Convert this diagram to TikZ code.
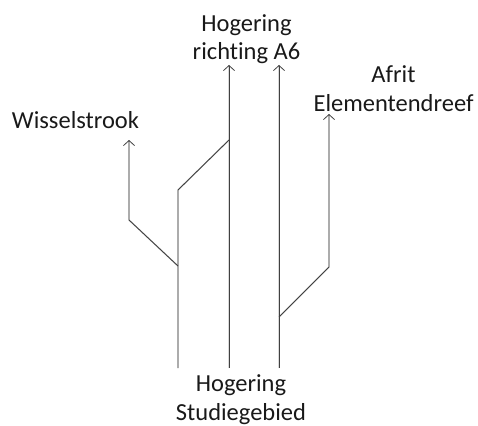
\documentclass[tikz,border=0pt]{standalone}
\usepackage{fontspec}
\setmainfont{Carlito}[Ligatures=NoCommon]
\usetikzlibrary{arrows.meta}
\begin{document}
\begin{tikzpicture}[x=1pt,y=-1pt,
  road/.style={draw=black!75,line width=0.9pt},
  shadow/.style={draw=black!15,line width=1.4pt},
  tip/.style={-{Straight Barb[length=5pt,width=11pt,line width=0.8pt]}},
  lbl/.style={font=\fontsize{24.5}{28.5}\selectfont,align=center,inner sep=0pt,anchor=base,text=black!90}]
\useasboundingbox (0,0) rectangle (478,425);
% coordinates
\coordinate (b1) at (178,368); \coordinate (j1) at (178,266);
\coordinate (w1) at (129,220); \coordinate (wt) at (129,140);
\coordinate (j2) at (178,190); \coordinate (m1) at (229,140);
\coordinate (b2) at (229,368); \coordinate (t2) at (229,65);
\coordinate (b3) at (279,368); \coordinate (t3) at (279,65);
\coordinate (j3) at (279,317); \coordinate (a1) at (329,267);
\coordinate (at) at (329,114);
% shadows
\begin{scope}[shift={(1.6,1.2)}]
\draw[shadow] (b1)--(j2)--(m1);
\draw[shadow] (j1)--(w1)--(wt);
\draw[shadow] (b2)--(t2);
\draw[shadow] (b3)--(t3);
\draw[shadow] (j3)--(a1)--(at);
\end{scope}
% roads
\draw[road] (b1)--(j2)--(m1);
\draw[road,tip] (j1)--(w1)--(wt);
\draw[road,tip] (b2)--(t2);
\draw[road,tip] (b3)--(t3);
\draw[road,tip] (j3)--(a1)--(at);
% labels
\node[lbl] (hA6) at (246.5,60) {Hogering\\richting A6};
\node[lbl] (afr) at (393.5,111) {Afrit\\Elementendreef};
\node[lbl] (wis) at (75.5,128) {Wisselstrook};
\node[lbl] (stu) at (241,420) {Hogering\\Studiegebied};
\end{tikzpicture}
\end{document}
